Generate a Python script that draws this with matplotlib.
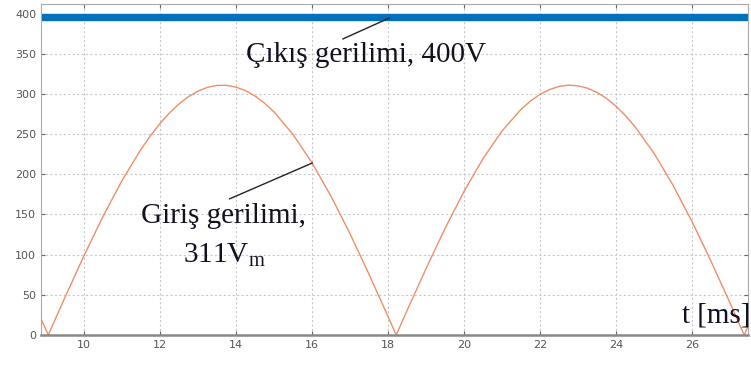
import matplotlib.pyplot as plt
from matplotlib.ticker import MultipleLocator

# values
t_out = [8.87, 27.47]
v_out = [396.0, 396.0]

t_in = [8.87, 9.06, 9.5, 10.0, 10.5, 11.0, 11.5, 11.75, 12.0, 12.25, 12.5,
        12.75, 13.0, 13.25, 13.5, 13.75, 14.0, 14.25, 14.5, 14.75, 15.0, 15.5,
        16.0, 16.5, 17.0, 17.5, 18.0, 18.215, 18.5, 19.0, 19.5, 20.0, 20.5,
        21.0, 21.5, 21.75, 22.0, 22.25, 22.5, 22.75, 23.0, 23.25, 23.5, 23.75,
        24.0, 24.25, 24.5, 25.0, 25.5, 26.0, 26.5, 27.0, 27.37, 27.47]
v_in = [20.3, 0.0, 46.8, 98.6, 147.5, 192.1, 231.1, 248.1, 263.2, 276.4, 287.6,
        296.7, 303.6, 308.3, 310.7, 310.8, 308.6, 304.2, 297.5, 288.6, 277.7,
        249.6, 214.3, 172.7, 126.0, 75.6, 23.0, 0.0, 30.4, 82.7, 132.7, 178.8,
        219.6, 254.0, 280.9, 291.3, 299.6, 305.6, 309.4, 311.0, 310.2, 307.2,
        301.9, 294.4, 284.7, 272.9, 259.1, 226.0, 186.2, 140.9, 91.6, 39.5,
        0.0, 10.7]

plt.rcParams['mathtext.fontset'] = 'custom'
plt.rcParams['mathtext.rm'] = 'Liberation Serif'

fig = plt.figure(figsize=(7.51, 3.65), dpi=100)
ax = fig.add_axes([0.0546, 0.0822, 0.9414, 0.9068])

ax.plot(t_out, v_out, color='#0072BD', linewidth=5.3, solid_capstyle='butt')
ax.plot(t_in, v_in, color='#EE8E68', linewidth=1.0)

ax.set_xlim(8.87, 27.47)
ax.set_ylim(0, 412)
ax.xaxis.set_major_locator(MultipleLocator(2))
ax.yaxis.set_major_locator(MultipleLocator(50))
ax.grid(True, color='#c8c8c8', linestyle=(0, (2, 2)), linewidth=0.8)
ax.tick_params(direction='in', length=3, labelsize=8, labelcolor='#555555',
               color='#666666', top=True, right=True)
for s in ax.spines.values():
    s.set_color('#aaaaaa')
    s.set_linewidth(0.8)
ax.spines['bottom'].set_color('#888888')
ax.spines['bottom'].set_linewidth(1.8)

serif = dict(family='Liberation Serif', fontsize=21, color='#111122')
ax.text(17.42, 340, 'Çıkış gerilimi, 400V', ha='center', va='baseline', **serif)
ax.annotate('', xy=(18.1, 396), xytext=(16.74, 367),
            arrowprops=dict(arrowstyle='-', color='#222222', lw=1.0))
ax.text(13.68, 139.5, 'Giriş gerilimi,', ha='center', va='baseline', **serif)
ax.text(13.68, 91, '311V$_{\\mathrm{m}}$', ha='center', va='baseline', **serif)
ax.annotate('', xy=(16.08, 215.6), xytext=(13.76, 168),
            arrowprops=dict(arrowstyle='-', color='#222222', lw=1.0))
ax.text(27.52, 16, 't [ms]', ha='right', va='baseline', **serif)

fig.savefig('out.png', dpi=100)
